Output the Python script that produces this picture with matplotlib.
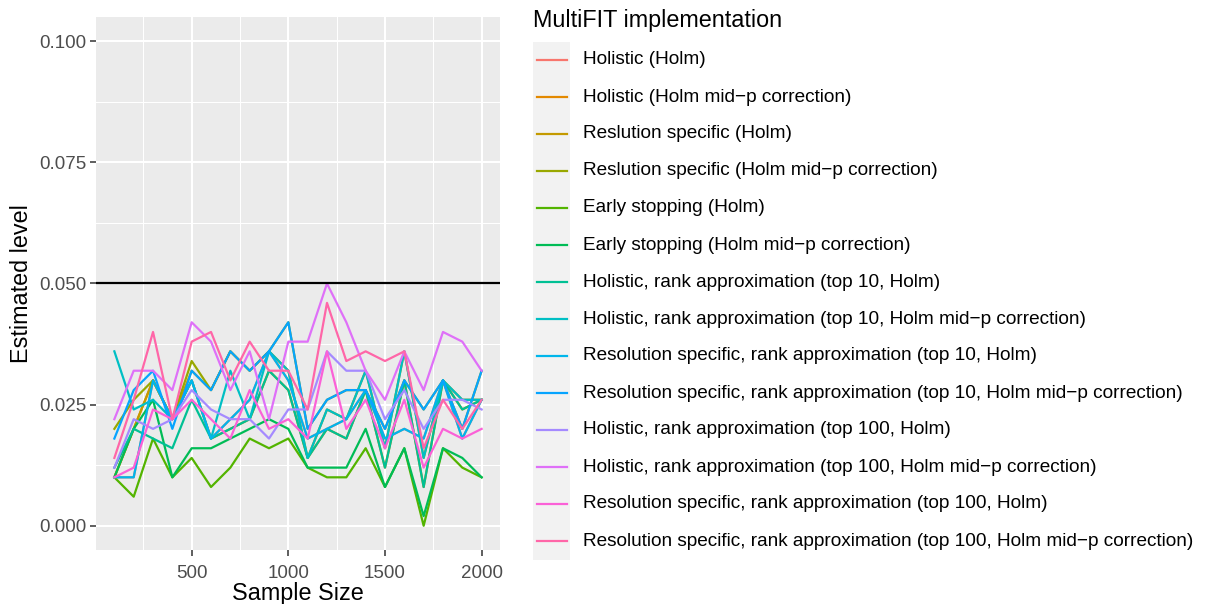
import numpy as np
import matplotlib
matplotlib.use("Agg")
import matplotlib.pyplot as plt
from matplotlib.lines import Line2D
from matplotlib.patches import Rectangle

plt.rcParams["font.family"] = ["Liberation Sans", "DejaVu Sans"]

sample_size = [100, 200, 300, 400, 500, 600, 700, 800, 900, 1000,
               1100, 1200, 1300, 1400, 1500, 1600, 1700, 1800, 1900, 2000]

labels = [
    "Holistic (Holm)",
    "Holistic (Holm mid\u2212p correction)",
    "Reslution specific (Holm)",
    "Reslution specific (Holm mid\u2212p correction)",
    "Early stopping (Holm)",
    "Early stopping (Holm mid\u2212p correction)",
    "Holistic, rank approximation (top 10, Holm)",
    "Holistic, rank approximation (top 10, Holm mid\u2212p correction)",
    "Resolution specific, rank approximation (top 10, Holm)",
    "Resolution specific, rank approximation (top 10, Holm mid\u2212p correction)",
    "Holistic, rank approximation (top 100, Holm)",
    "Holistic, rank approximation (top 100, Holm mid\u2212p correction)",
    "Resolution specific, rank approximation (top 100, Holm)",
    "Resolution specific, rank approximation (top 100, Holm mid\u2212p correction)",
]

colors = ["#F8766D", "#E38900", "#C49A00", "#99A800", "#53B400", "#00BC56", "#00C094",
          "#00BFC4", "#00B6EB", "#06A4FF", "#A58AFF", "#DF70F8", "#FB61D7", "#FF66A8"]

# estimated level per sample size (values x 1000)
holistic_holm = [10, 10, 30, 22, 30, 18, 22, 26, 36, 30, 18, 20, 22, 28, 18, 20, 18, 30, 18, 26]
holistic_midp = [10, 20, 30, 22, 30, 18, 20, 22, 32, 28, 14, 20, 18, 28, 12, 30, 8, 30, 24, 26]
res_holm = [10, 20, 30, 22, 32, 28, 36, 32, 36, 32, 14, 24, 22, 32, 16, 36, 14, 30, 26, 26]
res_midp = [20, 26, 30, 22, 34, 28, 36, 32, 36, 42, 20, 26, 28, 28, 20, 30, 24, 30, 20, 32]
early_holm = [10, 6, 18, 10, 14, 8, 12, 18, 16, 18, 12, 10, 10, 16, 8, 16, 0, 16, 12, 10]
early_midp = [10, 20, 26, 10, 16, 16, 18, 20, 22, 20, 12, 12, 12, 20, 8, 16, 2, 16, 14, 10]
hol_top10_holm = [12, 20, 18, 16, 26, 18, 20, 22, 32, 28, 14, 20, 18, 28, 12, 30, 8, 30, 24, 26]
hol_top10_midp = [36, 24, 26, 22, 30, 18, 32, 22, 36, 32, 14, 24, 22, 32, 16, 36, 14, 30, 26, 26]
res_top10_holm = [10, 10, 30, 22, 30, 18, 22, 26, 36, 30, 18, 20, 22, 28, 18, 20, 18, 30, 18, 26]
res_top10_midp = [18, 28, 32, 20, 32, 28, 36, 32, 36, 42, 20, 26, 28, 28, 20, 30, 24, 30, 20, 32]
hol_top100_holm = [12, 22, 20, 22, 28, 24, 22, 22, 18, 24, 24, 36, 32, 32, 22, 28, 20, 26, 26, 24]
hol_top100_midp = [22, 32, 32, 28, 42, 38, 28, 36, 22, 38, 38, 50, 42, 32, 26, 36, 28, 40, 38, 32]
res_top100_holm = [10, 12, 24, 22, 26, 22, 18, 28, 20, 22, 18, 36, 20, 26, 16, 26, 12, 20, 18, 20]
res_top100_midp = [14, 26, 40, 22, 38, 40, 30, 38, 32, 32, 24, 46, 34, 36, 34, 36, 16, 26, 20, 26]

series = [holistic_holm, holistic_midp, res_holm, res_midp, early_holm, early_midp,
          hol_top10_holm, hol_top10_midp, res_top10_holm, res_top10_midp,
          hol_top100_holm, hol_top100_midp, res_top100_holm, res_top100_midp]

W, H = 1207, 604
fig = plt.figure(figsize=(W / 100, H / 100), dpi=100)
ax = fig.add_axes([96 / W, 1 - 550 / H, (500 - 96) / W, (550 - 17) / H])
ax.set_facecolor("#EBEBEB")
for s in ax.spines.values():
    s.set_visible(False)

ax.set_xlim(5, 2095)
ax.set_ylim(-0.005, 0.105)
ax.set_xticks([500, 1000, 1500, 2000])
ax.set_xticks([250, 750, 1250, 1750], minor=True)
ax.set_yticks([0, 0.025, 0.05, 0.075, 0.1])
ax.set_yticks([0.0125, 0.0375, 0.0625, 0.0875], minor=True)
ax.set_yticklabels(["0.000", "0.025", "0.050", "0.075", "0.100"])
ax.grid(which="major", color="white", linewidth=1.5)
ax.grid(which="minor", color="white", linewidth=0.75)
ax.set_axisbelow(True)
ax.tick_params(which="major", length=4, width=1.1, color="#333333",
               labelsize=13.5, labelcolor="#4D4D4D")
ax.tick_params(axis="x", which="major", pad=7)
ax.tick_params(axis="y", which="major", pad=3)
ax.tick_params(which="minor", length=0)

for vals, c in zip(series, colors):
    ax.plot(sample_size, np.array(vals) / 1000, color=c, linewidth=1.6)

ax.axhline(0.05, color="black", linewidth=1.6)

ax.set_xlabel("Sample Size", fontsize=16.8, labelpad=0)
ax.set_ylabel("Estimated level", fontsize=16.8, labelpad=4)

# legend drawn by hand to mimic ggplot keys
fig.text(533 / W, 1 - 20 / H, "MultiFIT implementation", fontsize=16.8,
         va="center", ha="left")
key_top = 41.5
key_h = 37.0
fig.add_artist(Rectangle((533 / W, 1 - (key_top + key_h * len(labels)) / H),
                         37 / W, key_h * len(labels) / H,
                         transform=fig.transFigure, facecolor="#F2F2F2",
                         edgecolor="none"))
for i, (lab, c) in enumerate(zip(labels, colors)):
    yc = key_top + key_h * (i + 0.5)
    fig.add_artist(Line2D([537 / W, 567 / W], [1 - yc / H, 1 - yc / H],
                          transform=fig.transFigure, color=c, linewidth=1.6))
    fig.text(583 / W, 1 - yc / H, lab, fontsize=13.7, va="center", ha="left")

fig.savefig("out.png", dpi=100)
